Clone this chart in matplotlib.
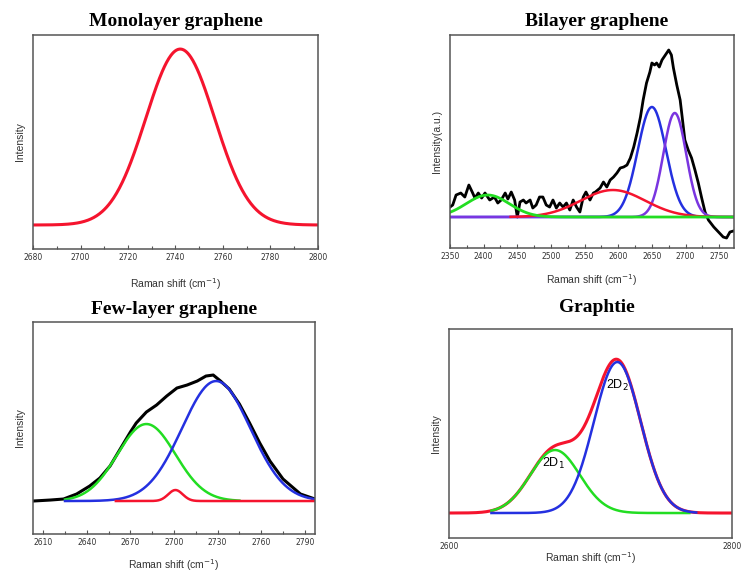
import numpy as np
import matplotlib
matplotlib.use('Agg')
import matplotlib.pyplot as plt
from matplotlib.ticker import MultipleLocator, FixedLocator

# ---- data ----
# monolayer: one 2D peak (center, height, sigma)
mono_peak = [2742, 1.76, 14.5]

# bilayer: measured spectrum (noisy) + four fitted peaks
bi_shift = [2350, 2354, 2359, 2366, 2372, 2378, 2383, 2387, 2392, 2397, 2402, 2409, 2416,
            2421, 2426, 2432, 2436, 2441, 2446, 2450, 2454, 2459, 2463, 2469, 2473, 2478,
            2483, 2488, 2493, 2498, 2503, 2508, 2513, 2518, 2523, 2528, 2533, 2538, 2543,
            2548, 2552, 2558, 2563, 2566, 2573, 2578, 2583, 2588, 2593, 2598, 2603, 2608,
            2613, 2618, 2623, 2628, 2633, 2637, 2642, 2647, 2650, 2654, 2657, 2661, 2665,
            2670, 2675, 2679, 2682, 2687, 2692, 2695, 2699, 2704, 2709, 2714, 2719, 2724,
            2729, 2734, 2742, 2749, 2756, 2761, 2766, 2771]
bi_intensity = [0.10, 0.12, 0.22, 0.24, 0.20, 0.32, 0.25, 0.19, 0.24, 0.19, 0.24, 0.17, 0.20,
                0.14, 0.17, 0.24, 0.18, 0.25, 0.17, 0.00, 0.15, 0.17, 0.14, 0.17, 0.09, 0.12,
                0.20, 0.20, 0.12, 0.10, 0.17, 0.09, 0.14, 0.10, 0.14, 0.07, 0.17, 0.10, 0.05,
                0.20, 0.25, 0.17, 0.24, 0.25, 0.29, 0.35, 0.30, 0.37, 0.40, 0.44, 0.49, 0.50,
                0.52, 0.59, 0.70, 0.84, 1.00, 1.17, 1.34, 1.45, 1.54, 1.52, 1.54, 1.50, 1.57,
                1.62, 1.67, 1.62, 1.49, 1.32, 1.17, 1.00, 0.77, 0.67, 0.59, 0.47, 0.34, 0.19,
                0.05, -0.03, -0.10, -0.15, -0.20, -0.21, -0.15, -0.14]
bi_centers = [2406, 2592, 2650, 2684]   # green, red, blue, purple
bi_heights = [0.22, 0.27, 1.10, 1.04]
bi_sigmas = [32, 48, 21, 17]

# few-layer: measured envelope + three fitted peaks
few_shift = [2603, 2615, 2624, 2633, 2642, 2649, 2656, 2663, 2670, 2674, 2681, 2688, 2695,
             2702, 2709, 2716, 2722, 2727, 2732, 2738, 2745, 2752, 2759, 2766, 2775, 2787, 2797]
few_intensity = [0.00, 0.01, 0.02, 0.07, 0.15, 0.23, 0.35, 0.52, 0.69, 0.78, 0.89, 0.96, 1.05,
                 1.13, 1.16, 1.20, 1.25, 1.26, 1.20, 1.12, 0.97, 0.78, 0.58, 0.40, 0.22, 0.07, 0.02]
few_centers = [2681, 2701, 2729]        # green, red, blue
few_heights = [0.77, 0.11, 1.20]
few_sigmas = [20, 5, 23.5]

# graphite: 2D1 and 2D2 components
gr_centers = [2675, 2719]
gr_heights = [0.63, 1.51]
gr_sigmas = [17.5, 16.5]

RED = '#f5142e'
GREEN = '#22dd22'
BLUE = '#2430e0'
PURPLE = '#7a35e0'
SPINE = '#555555'


def gauss(x, c, h, s):
    return h * np.exp(-(x - c) ** 2 / (2 * s ** 2))


def style(ax, xlim, ylim, major, minor, ylabel, xpad=7):
    ax.set_xlim(xlim)
    ax.set_ylim(ylim)
    ax.set_yticks([])
    if major is not None:
        ax.xaxis.set_major_locator(MultipleLocator(major))
        ax.xaxis.set_minor_locator(MultipleLocator(minor))
    ax.tick_params(axis='x', which='both', direction='in', labelsize=5.5,
                   colors=SPINE, labelcolor='#333333', pad=3)
    ax.tick_params(axis='x', which='major', length=3, width=0.8)
    ax.tick_params(axis='x', which='minor', length=2, width=0.8)
    for sp in ax.spines.values():
        sp.set_color(SPINE)
        sp.set_linewidth(1.1)
    ax.set_xlabel('Raman shift (cm$^{-1}$)', fontsize=7.5, family='Liberation Sans',
                  color='#333333', labelpad=xpad)
    ax.set_ylabel(ylabel, fontsize=7.5, family='Liberation Sans', color='#333333',
                  labelpad=6)


fig = plt.figure(figsize=(7.42, 5.72), dpi=100)
title_kw = dict(fontsize=14, fontweight='bold', family='Liberation Serif',
                ha='center', va='center')

# Monolayer
ax1 = fig.add_axes([0.0445, 0.5647, 0.384, 0.374])
x = np.linspace(2680, 2800, 400)
ax1.plot(x, gauss(x, *mono_peak), color=RED, lw=2.2)
style(ax1, (2680, 2800), (-0.24, 1.90), 20, 10, 'Intensity', xpad=10)
fig.text(176 / 742, 1 - 22 / 572, 'Monolayer graphene', **title_kw)

# Bilayer
ax2 = fig.add_axes([0.6065, 0.5664, 0.3827, 0.3724])
x = np.linspace(2350, 2772, 600)
ax2.plot(bi_shift, bi_intensity, color='black', lw=2.0)
ax2.plot(x, gauss(x, bi_centers[2], bi_heights[2], bi_sigmas[2]), color=BLUE, lw=1.8)
ax2.plot(x, gauss(x, bi_centers[3], bi_heights[3], bi_sigmas[3]), color=PURPLE, lw=1.8)
xr = np.linspace(2440, 2772, 400)
ax2.plot(xr, gauss(xr, bi_centers[1], bi_heights[1], bi_sigmas[1]), color=RED, lw=1.8)
ax2.plot(x, gauss(x, bi_centers[0], bi_heights[0], bi_sigmas[0]), color=GREEN, lw=2.0)
style(ax2, (2350, 2772), (-0.31, 1.82), 50, 25, 'Intensity(a.u.)', xpad=8)
fig.text(597 / 742, 1 - 22 / 572, 'Bilayer graphene', **title_kw)

# Few-layer
ax3 = fig.add_axes([0.0445, 0.0664, 0.380, 0.3706])
ax3.plot(few_shift, few_intensity, color='black', lw=2.2)
xg = np.linspace(2625, 2745, 300)
ax3.plot(xg, gauss(xg, few_centers[0], few_heights[0], few_sigmas[0]), color=GREEN, lw=1.8)
xb = np.linspace(2625, 2797, 300)
ax3.plot(xb, gauss(xb, few_centers[2], few_heights[2], few_sigmas[2]), color=BLUE, lw=1.8)
xr = np.linspace(2660, 2797, 300)
ax3.plot(xr, gauss(xr, few_centers[1], few_heights[1], few_sigmas[1]), color=RED, lw=1.8)
style(ax3, (2603, 2797), (-0.33, 1.79), 30, 15, 'Intensity')
ax3.set_xticks([2610, 2640, 2670, 2700, 2730, 2760, 2790])
fig.text(174.5 / 742, 1 - 309 / 572, 'Few-layer graphene', **title_kw)

# Graphite
ax4 = fig.add_axes([0.605, 0.0594, 0.3814, 0.3654])
x = np.linspace(2600, 2800, 500)
d1 = gauss(x, gr_centers[0], gr_heights[0], gr_sigmas[0])
d2 = gauss(x, gr_centers[1], gr_heights[1], gr_sigmas[1])
ax4.plot(x, d1 + d2, color=RED, lw=2.2)
m1 = (x > 2630) & (x < 2770)
ax4.plot(x[m1], d1[m1], color=GREEN, lw=1.8)
m2 = (x > 2630) & (x < 2775)
ax4.plot(x[m2], d2[m2], color=BLUE, lw=1.8)
style(ax4, (2600, 2800), (-0.25, 1.84), None, None, 'Intensity', xpad=-1)
ax4.xaxis.set_major_locator(FixedLocator([2600, 2800]))
ax4.tick_params(axis='x', which='major', length=0)
ax4.text(2674, 0.50, '2D$_1$', fontsize=9, family='Liberation Sans', ha='center', va='center')
ax4.text(2719, 1.28, '2D$_2$', fontsize=9, family='Liberation Sans', ha='center', va='center')
fig.text(596.5 / 742, 1 - 308 / 572, 'Graphtie', **title_kw)

fig.savefig('out.png', dpi=100)
